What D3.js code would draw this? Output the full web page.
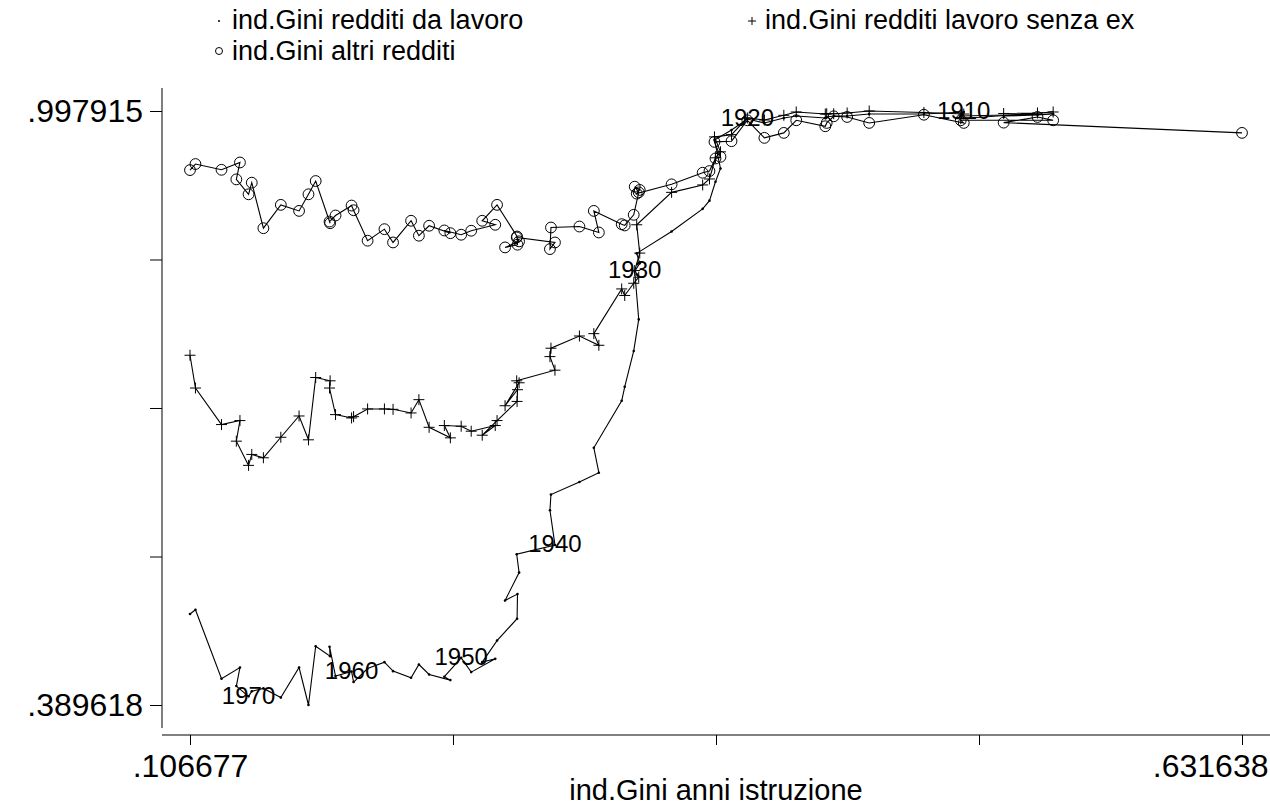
<!DOCTYPE html>
<html>
<head>
<meta charset="utf-8">
<script src="https://cdn.jsdelivr.net/npm/d3@7"></script>
<style>
  body { margin: 0; background: #fff; }
  svg { font-family: "Liberation Sans", Arial, sans-serif; }
</style>
</head>
<body>
<svg id="chart"></svg>
<script>
const width = 1270;
const height = 805;

// one row per year, newest first
const years = [
  1975, 1974, 1973, 1972, 1971, 1970, 1969, 1968, 1967, 1966,
  1965, 1964, 1963, 1962, 1961, 1960, 1959, 1958, 1957, 1956,
  1955, 1954, 1953, 1952, 1951, 1950, 1949, 1948, 1947, 1946,
  1945, 1944, 1943, 1942, 1941, 1940, 1939, 1938, 1937, 1936,
  1935, 1934, 1933, 1932, 1931, 1930, 1929, 1928, 1927, 1926,
  1925, 1924, 1923, 1922, 1921, 1920, 1919, 1918, 1917, 1916,
  1915, 1914, 1913, 1912, 1911, 1910, 1909, 1908, 1907, 1906,
  1905
];
const giniIstruzione = [
  0.106677, 0.1094, 0.1224, 0.1316, 0.1298, 0.1359, 0.1375, 0.1433, 0.1520, 0.1611,
  0.1658, 0.1694, 0.1766, 0.1763, 0.1793, 0.1873, 0.1883, 0.1953, 0.2037, 0.2080,
  0.2170, 0.2209, 0.2260, 0.2366, 0.2336, 0.2420, 0.2470, 0.2590, 0.2525, 0.2599,
  0.2699, 0.2701, 0.2639, 0.2709, 0.2697, 0.2888, 0.2863, 0.2868, 0.3010, 0.3107,
  0.3082, 0.3221, 0.3236, 0.3281, 0.3306, 0.3286, 0.3311, 0.3296, 0.3470, 0.3625,
  0.3659, 0.3689, 0.3714, 0.3684, 0.3769, 0.3848, 0.3933, 0.4030, 0.4092, 0.4237,
  0.4244, 0.4279, 0.4346, 0.4456, 0.4729, 0.4928, 0.4913, 0.5374, 0.5296, 0.5127,
  0.631638
];
const giniLavoro = [
  0.4828, 0.4872, 0.4165, 0.4280, 0.4090, 0.3985, 0.4036, 0.4066, 0.3972, 0.4280,
  0.389618, 0.4498, 0.4396, 0.4493, 0.4192, 0.4240, 0.4131, 0.4270, 0.4335, 0.4243,
  0.4175, 0.4311, 0.4209, 0.4151, 0.4186, 0.4379, 0.4233, 0.4369, 0.4335, 0.4556,
  0.4780, 0.5032, 0.4967, 0.5252, 0.5440, 0.5534, 0.5891, 0.6051, 0.6180, 0.6275,
  0.6530, 0.7012, 0.7155, 0.7522, 0.7845, 0.8338, 0.8419, 0.8521, 0.8745, 0.8977,
  0.9061, 0.9255, 0.9391, 0.9683, 0.9785, 0.9897, 0.9857, 0.9908, 0.9928, 0.9908,
  0.9918, 0.9928, 0.9928, 0.9948, 0.9948, 0.9969, 0.9928, 0.9948, 0.9938, 0.9928,
  null
];
const giniSenzaEx = [
  0.7478, 0.7142, 0.6768, 0.6809, 0.6598, 0.6350, 0.6462, 0.6428, 0.6638, 0.6856,
  0.6612, 0.7250, 0.7216, 0.7142, 0.6870, 0.6836, 0.6849, 0.6928, 0.6928, 0.6924,
  0.6887, 0.7023, 0.6740, 0.6632, 0.6758, 0.6751, 0.6700, 0.6758, 0.6659, 0.6809,
  0.7005, 0.7125, 0.6961, 0.7196, 0.7216, 0.7325, 0.7464, 0.7550, 0.7675, 0.7580,
  0.7699, 0.8157, 0.8090, 0.8215, 0.8277, 0.8345, 0.8524, 0.8814, 0.9146, 0.9222,
  0.9283, 0.9500, 0.9561, 0.9714, 0.9737, 0.9908, 0.9887, 0.9935, 0.9969, 0.9948,
  0.9951, 0.9951, 0.9959, 0.997915, 0.9964, 0.9948, 0.9900, 0.9969, 0.9959, 0.9954,
  null
];
const giniAltri = [
  0.9374, 0.9436, 0.9377, 0.9452, 0.9279, 0.9126, 0.9245, 0.8779, 0.9018, 0.8956,
  0.9126, 0.9262, 0.8830, 0.8847, 0.8909, 0.9011, 0.8963, 0.8651, 0.8769, 0.8633,
  0.8855, 0.8702, 0.8804, 0.8728, 0.8756, 0.8712, 0.8753, 0.8814, 0.8855, 0.9018,
  0.8694, 0.8610, 0.8582, 0.8644, 0.8684, 0.8633, 0.8565, 0.8786, 0.8796, 0.8735,
  0.8956, 0.8820, 0.8807, 0.8916, 0.9146, 0.9204, 0.9171, 0.9133, 0.9228, 0.9347,
  0.9364, 0.9493, 0.9510, 0.9663, 0.9670, 0.9884, 0.9704, 0.9755, 0.9884, 0.9823,
  0.9857, 0.9925, 0.9918, 0.9857, 0.9941, 0.9857, 0.9884, 0.9884, 0.9918, 0.9860,
  0.9755
];
const labelledYears = [1970, 1960, 1950, 1940, 1930, 1920, 1910];
const xTicks = [0.106677, 0.237917, 0.369158, 0.500398, 0.631638];
const yTicks = [0.389618, 0.541692, 0.693767, 0.845841, 0.997915];
const seriesNames = ["ind.Gini redditi da lavoro", "ind.Gini redditi lavoro senza ex", "ind.Gini altri redditi"];

const rows = years.map((yr, i) => ({
  year: yr,
  x: giniIstruzione[i],
  lav: giniLavoro[i],
  senza: giniSenzaEx[i],
  altri: giniAltri[i]
}));

const svg = d3.select("#chart")
  .attr("width", width)
  .attr("height", height);

const x = d3.scaleLinear()
  .domain([0.106677, 0.631638])
  .range([190, 1242]);

const y = d3.scaleLinear()
  .domain([0.389618, 0.997915])
  .range([705, 111]);

const endLabel = (ticks) => (d, i) =>
  (i === 0 || i === ticks.length - 1) ? d3.format(".6f")(d).replace(/^0/, "") : "";

// y axis
const yAxis = svg.append("g")
  .attr("transform", "translate(162,0)")
  .call(d3.axisLeft(y)
    .tickValues(yTicks)
    .tickSize(12)
    .tickPadding(7)
    .tickFormat(endLabel(yTicks)));
yAxis.select(".domain").remove();
yAxis.append("line")
  .attr("x1", 0).attr("x2", 0)
  .attr("y1", 88).attr("y2", 728)
  .attr("stroke", "#000");
yAxis.selectAll("text")
  .attr("fill", "#000")
  .style("font-size", "32px");
yAxis.selectAll(".tick line").attr("stroke", "#000");

// x axis
const xAxis = svg.append("g")
  .attr("transform", "translate(0,735)")
  .call(d3.axisBottom(x)
    .tickValues(xTicks)
    .tickSize(10)
    .tickPadding(9)
    .tickFormat(endLabel(xTicks)));
xAxis.select(".domain").remove();
xAxis.append("line")
  .attr("x1", 162).attr("x2", 1270)
  .attr("y1", 0).attr("y2", 0)
  .attr("stroke", "#000");
xAxis.selectAll("text")
  .attr("fill", "#000")
  .style("font-size", "32px");
xAxis.selectAll(".tick line").attr("stroke", "#000");
// last label pushed inside the frame
xAxis.selectAll(".tick text").filter((d, i) => i === xTicks.length - 1)
  .attr("text-anchor", "end")
  .attr("dx", 26);

svg.append("text")
  .attr("x", 716)
  .attr("y", 800)
  .attr("text-anchor", "middle")
  .style("font-size", "29px")
  .text("ind.Gini anni istruzione");

// lines
const plot = svg.append("g");

function drawLine(key) {
  const line = d3.line()
    .defined(d => d[key] != null)
    .x(d => x(d.x))
    .y(d => y(d[key]));
  plot.append("path")
    .datum(rows)
    .attr("d", line)
    .attr("fill", "none")
    .attr("stroke", "#000")
    .attr("stroke-width", 1.1);
}
drawLine("altri");
drawLine("senza");
drawLine("lav");

// markers
plot.append("g")
  .selectAll("circle")
  .data(rows)
  .join("circle")
  .attr("cx", d => x(d.x))
  .attr("cy", d => y(d.altri))
  .attr("r", 5.4)
  .attr("fill", "none")
  .attr("stroke", "#000")
  .attr("stroke-width", 1);

const plusSize = 5.5;
plot.append("g")
  .selectAll("path")
  .data(rows.filter(d => d.senza != null))
  .join("path")
  .attr("d", d => {
    const cx = x(d.x), cy = y(d.senza);
    return `M${cx - plusSize},${cy}H${cx + plusSize}M${cx},${cy - plusSize}V${cy + plusSize}`;
  })
  .attr("stroke", "#000")
  .attr("stroke-width", 1);

plot.append("g")
  .selectAll("circle")
  .data(rows.filter(d => d.lav != null))
  .join("circle")
  .attr("cx", d => x(d.x))
  .attr("cy", d => y(d.lav))
  .attr("r", 1.3)
  .attr("fill", "#000");

// year labels
plot.append("g")
  .selectAll("text")
  .data(rows.filter(d => labelledYears.includes(d.year)))
  .join("text")
  .attr("x", d => x(d.x))
  .attr("y", d => y(d.lav))
  .attr("dy", "0.3em")
  .attr("text-anchor", "middle")
  .style("font-size", "24px")
  .attr("fill", "#000")
  .text(d => d.year);

// legend
const legend = svg.append("g").style("font-size", "27px");
legend.append("circle").attr("cx", 219).attr("cy", 21).attr("r", 1).attr("fill", "#000");
legend.append("text").attr("x", 232).attr("y", 29).text(seriesNames[0]);
legend.append("path")
  .attr("d", "M748,21H756M752,17V25")
  .attr("stroke", "#000");
legend.append("text").attr("x", 765).attr("y", 29).text(seriesNames[1]);
legend.append("circle").attr("cx", 219).attr("cy", 51).attr("r", 3.5)
  .attr("fill", "none").attr("stroke", "#000");
legend.append("text").attr("x", 232).attr("y", 60).text(seriesNames[2]);
</script>
</body>
</html>
